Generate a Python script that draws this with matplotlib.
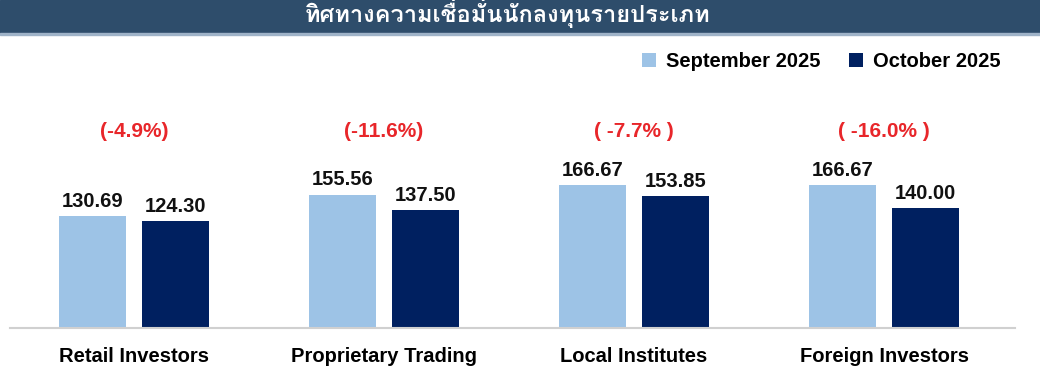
import matplotlib
matplotlib.use("Agg")
import matplotlib.pyplot as plt
from matplotlib import font_manager
from matplotlib.ft2font import FT2Font
from matplotlib.patches import Rectangle

categories = ["Retail Investors", "Proprietary Trading", "Local Institutes", "Foreign Investors"]
sep_2025 = [130.69, 155.56, 166.67, 166.67]
oct_2025 = [124.30, 137.50, 153.85, 140.00]
changes = ["(-4.9%)", "(-11.6%)", "( -7.7% )", "( -16.0% )"]
title = "ทิศทางความเชื่อมั่นนักลงทุนรายประเภท"

# find a font that can draw Thai
thai_font = None
for f in font_manager.fontManager.ttflist:
    try:
        if 0x0E17 in FT2Font(f.fname).get_charmap():
            thai_font = f.name
            break
    except Exception:
        pass

light = "#9DC3E6"
dark = "#002060"
red = "#E8262A"

plt.rcParams["font.family"] = ["Liberation Sans", "DejaVu Sans"]

fig = plt.figure(figsize=(10.4, 3.72), dpi=100)

# title band
fig.patches.append(Rectangle((0, 1 - 33 / 372), 1, 33 / 372, transform=fig.transFigure,
                             color="#2E4D6B", zorder=0))
fig.patches.append(Rectangle((0, 1 - 35 / 372), 1, 2 / 372, transform=fig.transFigure,
                             color="#9FB3C8", zorder=0))
fam = [thai_font, "DejaVu Sans"] if thai_font else ["DejaVu Sans"]
fig.text(0.488, 1 - 22 / 372, title, color="white", fontsize=17, fontweight="bold",
         ha="center", va="baseline", family=fam)

ax = fig.add_axes([10 / 1040, 44 / 372, 1005 / 1040, 288 / 372])
x = range(len(categories))
w = 0.268
off = 0.166
b1 = ax.bar([i - off for i in x], sep_2025, w, color=light, label="September 2025")
b2 = ax.bar([i + off for i in x], oct_2025, w, color=dark, label="October 2025")

for bars, vals in ((b1, sep_2025), (b2, oct_2025)):
    for b, v in zip(bars, vals):
        ax.text(b.get_x() + b.get_width() / 2, v + 6, f"{v:.2f}", ha="center", va="bottom",
                fontsize=14.5, fontweight="bold", color="#111111")

for i, c in enumerate(changes):
    ax.text(i, 229, c, ha="center", va="center", fontsize=15, fontweight="bold", color=red)

ax.set_xlim(-0.496, 3.524)
ax.set_ylim(0, 335.7)
ax.set_yticks([])
ax.set_xticks(list(x))
ax.set_xticklabels(categories, fontsize=14.5, fontweight="bold")
ax.tick_params(axis="x", length=0, pad=14)
for s in ["top", "right", "left"]:
    ax.spines[s].set_visible(False)
ax.spines["bottom"].set_color("#D0D0D0")
ax.spines["bottom"].set_linewidth(1.5)

ax.legend(loc="upper right", bbox_to_anchor=(1.004, 1.02), ncol=2, frameon=False,
          prop={"size": 14.5, "weight": "bold"}, handlelength=0.7, handleheight=0.7,
          columnspacing=1.4, handletextpad=0.5)

fig.savefig("out.png", dpi=100)
